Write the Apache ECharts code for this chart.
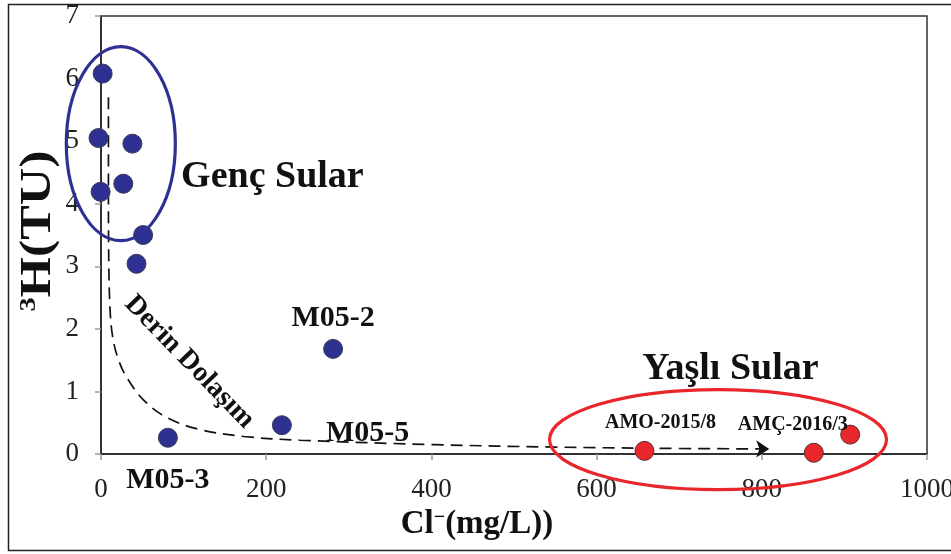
<!DOCTYPE html>
<html>
<head>
<meta charset="utf-8">
<script src="https://cdn.jsdelivr.net/npm/echarts@6/dist/echarts.min.js"></script>
<style>
  html, body { margin: 0; padding: 0; background: #fff; }
  #chart { width: 951px; height: 554px; }
</style>
</head>
<body>
<div id="chart"></div>
<script>
// Young waters (tritium-rich, low chloride)
const youngCl = [2, -3, 38, -0.5, 27, 51, 43];
const youngH3 = [6.08, 5.05, 4.96, 4.19, 4.32, 3.50, 3.04];

// Deep-circulation samples
const deepNames = ['M05-2', 'M05-5', 'M05-3'];
const deepCl = [281, 219, 81];
const deepH3 = [1.68, 0.46, 0.26];

// Old waters (chloride-rich, tritium-poor)
const oldNames = ['AMO-2015/8', 'AMÇ-2016/3', ''];
const oldCl = [658, 863, 907];
const oldH3 = [0.05, 0.02, 0.31];

// Sketched evolution path (dashed guide) and its arrow tip
const flowCl = [9, 9, 9.5, 11, 14, 20, 30, 51, 80, 120, 173, 241, 403, 550, 700];
const flowH3 = [5.7, 4.2, 3.0, 2.3, 1.88, 1.55, 1.25, 0.87, 0.58, 0.39, 0.28, 0.22, 0.15, 0.11, 0.088];
const arrowTip = [809, 0.08];

// Axis ticks
const xTicks = [0, 200, 400, 600, 800, 1000];
const yTicks = [0, 1, 2, 3, 4, 5, 6, 7];

const SERIF = '"Liberation Serif", "Times New Roman", serif';
const BLUE = '#2e3192';
const RED = '#e8262b';

const zip = (a, b) => a.map((v, i) => [v, b[i]]);

const chart = echarts.init(document.getElementById('chart'), null, { renderer: 'canvas' });

const labelStyle = {
  show: true, color: '#111', fontFamily: SERIF, fontWeight: 'bold'
};

chart.setOption({
  animation: false,
  backgroundColor: '#fff',
  grid: {
    left: 101, right: 24, top: 16, bottom: 100,
    outerBoundsMode: 'none', containLabel: false,
    show: true, borderColor: '#333', borderWidth: 1.5
  },
  xAxis: {
    type: 'value', min: xTicks[0], max: xTicks[xTicks.length - 1], interval: 200,
    axisLine: { lineStyle: { color: '#222', width: 1.5 } },
    axisTick: { show: true, length: 6, lineStyle: { color: '#999', width: 1.5 } },
    splitLine: { show: false },
    axisLabel: { color: '#222', fontFamily: SERIF, fontSize: 27, margin: 22, formatter: v => String(v) },
    name: 'Cl{s|−}(mg/L))',
    nameLocation: 'middle', nameGap: 53,
    nameTextStyle: {
      color: '#111', fontFamily: SERIF, fontWeight: 'bold', fontSize: 33,
      padding: [0, 74, 0, 0],
      rich: { s: { fontFamily: SERIF, fontWeight: 'bold', fontSize: 20, verticalAlign: 'top', padding: [0, 0, 14, 0] } }
    }
  },
  yAxis: {
    type: 'value', min: yTicks[0], max: yTicks[yTicks.length - 1], interval: 1,
    axisLine: { lineStyle: { color: '#222', width: 1.5 } },
    axisTick: { show: true, length: 6, lineStyle: { color: '#999', width: 1.5 } },
    splitLine: { show: false },
    axisLabel: { color: '#222', fontFamily: SERIF, fontSize: 27, margin: 22 }
  },
  series: [
    {
      name: 'flow', type: 'line', data: zip(flowCl, flowH3),
      smooth: 0.35, showSymbol: false, symbol: 'none', silent: true, z: 1,
      lineStyle: { color: '#111', width: 1.7, type: [12, 7] },
      markLine: {
        silent: true, symbol: ['none', 'arrow'], symbolSize: 13,
        label: { show: false },
        lineStyle: { color: '#111', width: 1.7, type: [12, 7] },
        data: [[
          { coord: [flowCl[flowCl.length - 1], flowH3[flowH3.length - 1]] },
          { coord: arrowTip }
        ]]
      }
    },
    {
      name: 'young', type: 'scatter', clip: false, z: 3,
      data: zip(youngCl, youngH3),
      symbolSize: 19,
      itemStyle: { color: BLUE, borderColor: '#3a3a55', borderWidth: 1, opacity: 1 }
    },
    {
      name: 'deep', type: 'scatter', clip: false, z: 3,
      data: deepCl.map((c, i) => ({
        value: [c, deepH3[i]], name: deepNames[i],
        label: [
          { position: 'top', distance: 6, offset: [0, 0] },
          { position: 'right', distance: 34, offset: [0, 8] },
          { position: 'bottom', distance: 18 }
        ][i]
      })),
      symbolSize: 19,
      itemStyle: { color: BLUE, borderColor: '#3a3a55', borderWidth: 1, opacity: 1 },
      label: Object.assign({}, labelStyle, { fontSize: 30, formatter: p => p.name })
    },
    {
      name: 'old', type: 'scatter', clip: false, z: 3,
      data: oldCl.map((c, i) => ({
        value: [c, oldH3[i]], name: oldNames[i],
        label: [
          { show: true, position: 'top', distance: 8, offset: [16, 0] },
          { show: true, position: 'top', distance: 8, offset: [-21, 0] },
          { show: false }
        ][i]
      })),
      symbolSize: 19,
      itemStyle: { color: RED, borderColor: '#553333', borderWidth: 1, opacity: 1 },
      label: Object.assign({}, labelStyle, { fontSize: 20, formatter: p => p.name })
    }
  ]
});

// Group outlines and captions placed in data space
const zones = [
  { center: [24, 4.96], radius: [66, 1.55], color: BLUE },
  { center: [747, 0.23], radius: [204, 0.8], color: RED }
];
const captions = [
  { text: 'Genç Sular', at: [97, 4.43], align: 'left', size: 38, rotation: 0 },
  { text: 'Yaşlı Sular', at: [762, 1.35], align: 'center', size: 38, rotation: 0 },
  { text: 'Derin Dolaşım', at: [107, 1.47], align: 'center', size: 28, rotation: -0.80 }
];

const px = v => chart.convertToPixel({ gridIndex: 0 }, v);
const graphics = [];

zones.forEach(z => {
  const c = px(z.center);
  const e = px([z.center[0] + z.radius[0], z.center[1] + z.radius[1]]);
  graphics.push({
    type: 'ellipse', silent: true, z: 10,
    shape: { cx: c[0], cy: c[1], rx: Math.abs(e[0] - c[0]), ry: Math.abs(e[1] - c[1]) },
    style: { fill: 'none', stroke: z.color, lineWidth: 3.2 }
  });
});

captions.forEach(t => {
  const p = px(t.at);
  graphics.push({
    type: 'text', silent: true, z: 10,
    x: p[0], y: p[1], rotation: t.rotation,
    style: {
      text: t.text, fill: '#111', font: 'bold ' + t.size + 'px ' + SERIF,
      textAlign: t.align, textVerticalAlign: 'middle'
    }
  });
});

// Y-axis title, centred on the plot height and stretched along its reading direction
const yMid = (px([0, yTicks[0]])[1] + px([0, yTicks[yTicks.length - 1]])[1]) / 2;
graphics.push({
  type: 'text', silent: true, z: 10,
  x: 39, y: yMid - 4, rotation: Math.PI / 2, scaleX: 1.18,
  style: {
    text: '{s|3}H(TU)', fill: '#111', font: 'bold 44px ' + SERIF,
    textAlign: 'center', textVerticalAlign: 'middle',
    rich: { s: { fontFamily: SERIF, fontWeight: 'bold', fontSize: 24, verticalAlign: 'top', padding: [0, 0, 18, 0] } }
  }
});

// Outer frame
graphics.push({
  type: 'rect', silent: true, z: 0,
  shape: { x: 8.5, y: 4.5, width: 960, height: 546 },
  style: { fill: 'none', stroke: '#222', lineWidth: 1.5 }
});

chart.setOption({ graphic: graphics });
</script>
</body>
</html>
